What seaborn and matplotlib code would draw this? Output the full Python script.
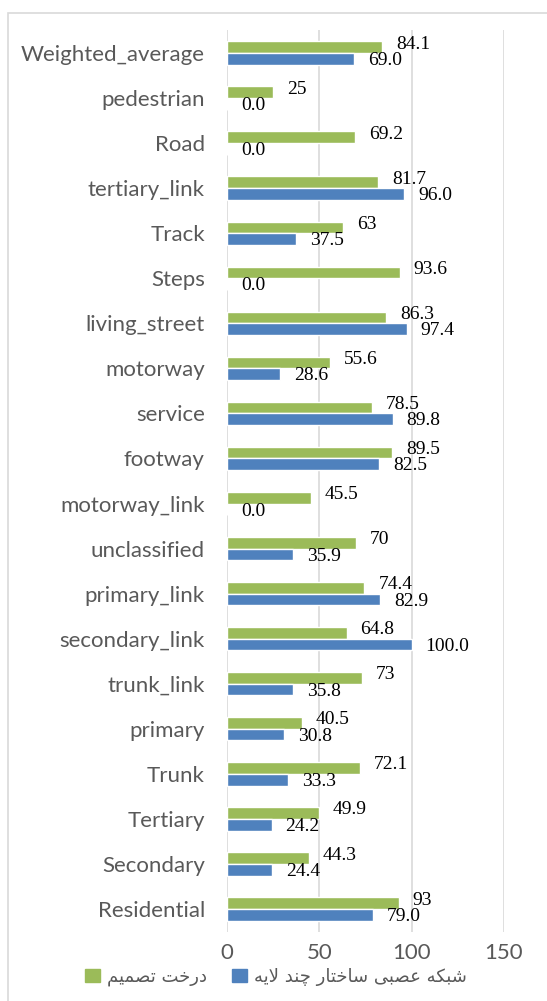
import pandas as pd
import matplotlib
matplotlib.use("Agg")
import matplotlib.pyplot as plt
from matplotlib.patches import Rectangle, Patch
import seaborn as sns

categories = ["Weighted_average", "pedestrian", "Road", "tertiary_link", "Track",
              "Steps", "living_street", "motorway", "service", "footway",
              "motorway_link", "unclassified", "primary_link", "secondary_link",
              "trunk_link", "primary", "Trunk", "Tertiary", "Secondary", "Residential"]
tree_values = [84.1, 25, 69.2, 81.7, 63, 93.6, 86.3, 55.6, 78.5, 89.5,
               45.5, 70, 74.4, 64.8, 73, 40.5, 72.1, 49.9, 44.3, 93]
mlp_values = [69.0, 0.0, 0.0, 96.0, 37.5, 0.0, 97.4, 28.6, 89.8, 82.5,
              0.0, 35.9, 82.9, 100.0, 35.8, 30.8, 33.3, 24.2, 24.4, 79.0]
tree_labels = ["84.1", "25", "69.2", "81.7", "63", "93.6", "86.3", "55.6", "78.5", "89.5",
               "45.5", "70", "74.4", "64.8", "73", "40.5", "72.1", "49.9", "44.3", "93"]
mlp_labels = ["%.1f" % v for v in mlp_values]
tree_name = "درخت تصمیم"
mlp_name = "شبکه عصبی ساختار چند لایه"

# simple persian shaping (matplotlib has no RTL/contextual shaping)
FORMS = {
    "ا": ("\uFE8D", "\uFE8E", None, None), "ب": ("\uFE8F", "\uFE90", "\uFE91", "\uFE92"),
    "ت": ("\uFE95", "\uFE96", "\uFE97", "\uFE98"), "خ": ("\uFEA5", "\uFEA6", "\uFEA7", "\uFEA8"),
    "د": ("\uFEA9", "\uFEAA", None, None), "ر": ("\uFEAD", "\uFEAE", None, None),
    "س": ("\uFEB1", "\uFEB2", "\uFEB3", "\uFEB4"), "ش": ("\uFEB5", "\uFEB6", "\uFEB7", "\uFEB8"),
    "ص": ("\uFEB9", "\uFEBA", "\uFEBB", "\uFEBC"), "ع": ("\uFEC9", "\uFECA", "\uFECB", "\uFECC"),
    "ل": ("\uFEDD", "\uFEDE", "\uFEDF", "\uFEE0"), "م": ("\uFEE1", "\uFEE2", "\uFEE3", "\uFEE4"),
    "ن": ("\uFEE5", "\uFEE6", "\uFEE7", "\uFEE8"), "ه": ("\uFEE9", "\uFEEA", "\uFEEB", "\uFEEC"),
    "ک": ("\uFB8E", "\uFB8F", "\uFB90", "\uFB91"), "ی": ("\uFBFC", "\uFBFD", "\uFBFE", "\uFBFF"),
    "چ": ("\uFB7A", "\uFB7B", "\uFB7C", "\uFB7D"),
}


def shape(text):
    out = []
    i = 0
    chars = list(text)
    while i < len(chars):
        c = chars[i]
        if c not in FORMS:
            out.append(c)
            i += 1
            continue
        prev = chars[i - 1] if i > 0 else " "
        prev_joins = prev in FORMS and FORMS[prev][2] is not None
        # lam-alef ligature
        if c == "ل" and i + 1 < len(chars) and chars[i + 1] == "ا":
            out.append("\uFEFC" if prev_joins else "\uFEFB")
            i += 2
            continue
        nxt = chars[i + 1] if i + 1 < len(chars) else " "
        next_joins = FORMS[c][2] is not None and nxt in FORMS
        iso, fin, ini, med = FORMS[c]
        if prev_joins and next_joins:
            out.append(med)
        elif prev_joins:
            out.append(fin)
        elif next_joins:
            out.append(ini)
        else:
            out.append(iso)
        i += 1
    return "".join(out)[::-1]


df = pd.DataFrame({
    "category": categories * 2,
    "value": tree_values + mlp_values,
    "model": [tree_name] * len(categories) + [mlp_name] * len(categories),
})

sns.set_style("white")
plt.rcParams["font.family"] = ["Lato", "DejaVu Sans"]

fig = plt.figure(figsize=(5.47, 10.01), dpi=100)
ax = fig.add_axes([227 / 547, 1 - 931.5 / 1001, 277 / 547, 901 / 1001])

sns.barplot(data=df, y="category", x="value", hue="model",
            hue_order=[tree_name, mlp_name],
            palette=["#9BBB59", "#4F81BD"], width=0.52, orient="h",
            saturation=1, legend=False, ax=ax)

# green labels sit a little above, blue a little below
for cont, labs, dy in zip(ax.containers, [tree_labels, mlp_labels], [2.2, -1.2]):
    anns = ax.bar_label(cont, labels=labs, padding=10, fontsize=14,
                        fontfamily="Liberation Serif", color="black")
    for a in anns:
        a.xyann = (a.xyann[0], dy)

ax.set_xlim(0, 150)
ax.set_xticks([0, 50, 100, 150])
ax.grid(axis="x", color="#d9d9d9", linewidth=1.2)
ax.set_axisbelow(True)
for s in ax.spines.values():
    s.set_visible(False)
ax.set_xlabel("")
ax.set_ylabel("")
ax.tick_params(axis="both", length=0, labelsize=16, colors="#595959")
ax.tick_params(axis="y", pad=16)
ax.tick_params(axis="x", pad=8)

# outer chart border
fig.patches.append(Rectangle((8 / 547, -0.05), 1.2, 1 - 13 / 1001 + 0.05,
                             transform=fig.transFigure, fill=False,
                             edgecolor="#d9d9d9", linewidth=1.2))

handles = [Patch(color="#9BBB59"), Patch(color="#4F81BD")]
fig.legend(handles, [shape(tree_name), shape(mlp_name)], loc="center",
           bbox_to_anchor=(0.505, 1 - 977 / 1001), ncol=2, frameon=False,
           prop={"family": "DejaVu Sans", "size": 13}, handlelength=0.8,
           handleheight=0.8, handletextpad=0.4, columnspacing=1.4,
           labelcolor="#595959")

fig.savefig("out.png", dpi=100)
